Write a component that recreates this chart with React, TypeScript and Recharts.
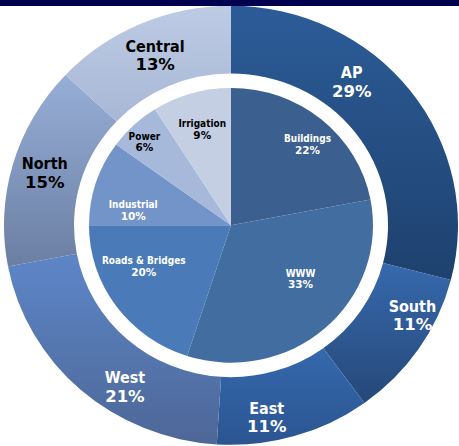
import { PieChart, Pie, Cell } from "recharts";

// outer ring: regions
const regionNames = ["AP", "South", "East", "West", "North", "Central"];
const regionShares = [29, 11, 11, 21, 15, 13];

// inner pie: sectors
const sectorNames = ["Buildings", "WWW", "Roads & Bridges", "Industrial", "Power", "Irrigation"];
const sectorShares = [22, 33, 20, 10, 6, 9];

const regionData = regionNames.map((name, i) => ({ name, value: regionShares[i] }));
const sectorData = sectorNames.map((name, i) => ({ name, value: sectorShares[i] }));

const regionGradients: Record<string, [string, string]> = {
  AP: ["#2c5c98", "#1e416e"],
  South: ["#3669ad", "#264878"],
  East: ["#3568ad", "#2b5591"],
  West: ["#5d86c8", "#4d6797"],
  North: ["#97aed6", "#6b7fa3"],
  Central: ["#bdcbe5", "#a8b7d4"],
};

const sectorColors = ["#3b5f8f", "#426da0", "#4a7bb8", "#7394c8", "#a6b9db", "#c4cfe4"];

const darkText = new Set(["North", "Central", "Power", "Irrigation"]);

// label nudges: [degrees clockwise, radius]
const labelSpot: Record<string, [number, number]> = {
  AP: [-13, 191],
  South: [-7, 204],
  East: [6, 202],
  West: [-9, 198],
  North: [0, 194],
  Central: [0, 191],
  Buildings: [3, 113],
  WWW: [-10, 89],
  "Roads & Bridges": [10, 97],
  Industrial: [-9, 99],
  Power: [-2, 122],
  Irrigation: [0, 103],
};

const FONT = "'DejaVu Sans Condensed', 'DejaVu Sans', sans-serif";
const PCT_FONT = "'DejaVu Sans', sans-serif";
const RAD = Math.PI / 180;
const SQUASH = 0.967;

function makeLabel(fontSize: number, pctSize: number, gap: number) {
  return (props: any) => {
    const { cx, cy, midAngle, name, value } = props;
    const [shift, r] = labelSpot[name] || [0, 100];
    const a = (midAngle - shift) * RAD;
    const x = cx + r * Math.cos(a);
    const y = cy - r * Math.sin(a);
    const fill = darkText.has(name) ? "#000000" : "#ffffff";
    return (
      <text x={x} y={y} textAnchor="middle" fontWeight="bold" fill={fill}>
        <tspan x={x} dy={-gap / 2 + fontSize * 0.35} fontFamily={FONT} fontSize={fontSize}>
          {name}
        </tspan>
        <tspan x={x} dy={gap} fontFamily={PCT_FONT} fontSize={pctSize}>
          {`${value}%`}
        </tspan>
      </text>
    );
  };
}

export default function App() {
  return (
    <div
      style={{
        position: "fixed",
        left: 0,
        top: 0,
        width: 459,
        height: 446,
        overflow: "hidden",
        background: "#ffffff",
      }}
    >
      <div style={{ transform: `scaleY(${SQUASH})`, transformOrigin: "0 0" }}>
        <PieChart width={459} height={462} margin={{ top: 0, right: 0, bottom: 0, left: 0 }}>
          <defs>
            {regionNames.map((n) => (
              <linearGradient key={n} id={`grad-${n}`} x1="0" y1="0" x2="0" y2="1">
                <stop offset="0%" stopColor={regionGradients[n][0]} />
                <stop offset="100%" stopColor={regionGradients[n][1]} />
              </linearGradient>
            ))}
          </defs>
          <Pie
            data={regionData}
            dataKey="value"
            nameKey="name"
            cx={231}
            cy={233}
            innerRadius={157}
            outerRadius={227}
            startAngle={90}
            endAngle={-270}
            stroke="none"
            labelLine={false}
            label={makeLabel(16, 16.5, 19)}
            isAnimationActive={false}
          >
            {regionData.map((d) => (
              <Cell key={d.name} fill={`url(#grad-${d.name})`} />
            ))}
          </Pie>
          <Pie
            data={sectorData}
            dataKey="value"
            nameKey="name"
            cx={231}
            cy={233}
            innerRadius={0}
            outerRadius={142}
            startAngle={90}
            endAngle={-270}
            stroke="none"
            labelLine={false}
            label={makeLabel(10, 10.5, 12)}
            isAnimationActive={false}
          >
            {sectorData.map((d, i) => (
              <Cell key={d.name} fill={sectorColors[i]} />
            ))}
          </Pie>
        </PieChart>
      </div>
      <div
        style={{ position: "absolute", left: 0, top: 0, width: 459, height: 6, background: "#00004f" }}
      />
    </div>
  );
}
